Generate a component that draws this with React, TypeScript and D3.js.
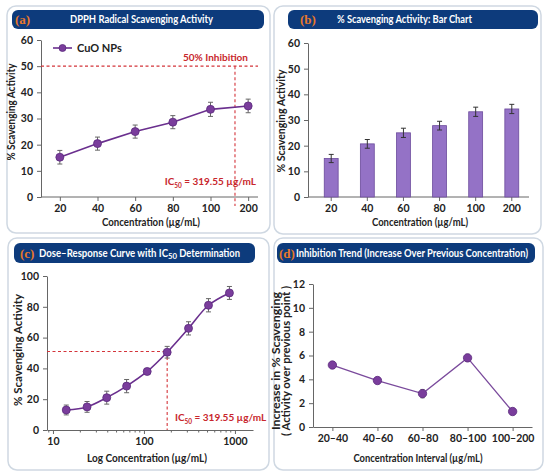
import React, { useEffect, useRef } from "react";
import * as d3 from "d3";

// panel (a) and (b): concentrations
const concLabels = ["20", "40", "60", "80", "100", "200"];
const lineValues = [15.2, 20.4, 25.0, 28.6, 33.5, 34.8];
const lineErr = [2.6, 2.5, 2.5, 2.5, 2.7, 2.6];
const barValues = [15.0, 20.7, 25.0, 27.8, 33.2, 34.3];
const barErr = [1.6, 1.7, 1.8, 1.7, 1.8, 1.8];
const yTicksAB = [0, 10, 20, 30, 40, 50, 60];

// panel (c): dose-response on log axis
const logConc = [14, 23.7, 39, 64.5, 108.6, 180, 309, 512, 870];
const doseValues = [13, 15, 21, 28.5, 38, 50.5, 66, 81, 89];
const doseErr = [3.2, 3.5, 4.2, 4.3, 2.0, 3.8, 4.3, 4.3, 4.2];
const yTicksC = [0, 20, 40, 60, 80, 100];
const logTicks = [10, 100, 1000];
const ic50Marker = 180;
const ic50Level = 51;

// panel (d): increase over previous concentration
const intervals = ["20–40", "40–60", "60–80", "80–100", "100–200"];
const increase = [5.2, 3.9, 2.8, 5.8, 1.3];
const increaseErr = [0.25, 0.25, 0.35, 0.3, 0.25];
const yTicksD = [0, 2, 4, 6, 8, 10, 12];

const FONT = "Lato, 'Open Sans', sans-serif";
const PURPLE = "#6a2f8e";
const RED = "#d4343a";
const NAVY = "#0d3b7c";
const ORANGE = "#e8782a";
const TEXT = "#222";

type Sel = d3.Selection<SVGSVGElement, unknown, null, undefined>;

const App: React.FC = () => {
  const ref = useRef<SVGSVGElement>(null);

  useEffect(() => {
    if (!ref.current) return;
    const svg: Sel = d3.select(ref.current);
    svg.selectAll("*").remove();
    svg.attr("font-family", FONT);

    svg.append("rect").attr("width", 550).attr("height", 476).attr("fill", "#fff");

    const card = (x: number, y: number, w: number, h: number) => {
      svg
        .append("rect")
        .attr("x", x)
        .attr("y", y)
        .attr("width", w)
        .attr("height", h)
        .attr("rx", 9)
        .attr("fill", "#fff")
        .attr("stroke", "#cfd8e2")
        .attr("stroke-width", 1.5);
    };

    // parts: [text, length, isSubscript]
    const titleBar = (
      x: number, y: number, w: number, h: number,
      label: string, labelX: number,
      titleX: number, parts: [string, number, boolean][]
    ) => {
      svg.append("rect").attr("x", x).attr("y", y).attr("width", w).attr("height", h)
        .attr("rx", 6).attr("fill", NAVY);
      svg.append("text").attr("x", labelX).attr("y", y + h / 2 + 4.5)
        .attr("fill", ORANGE).attr("font-family", "'Liberation Serif', serif")
        .attr("font-weight", 700).attr("font-size", 13).text(label);
      const t = svg.append("text").attr("x", titleX).attr("y", y + h / 2 + 3.8)
        .attr("fill", "#fff").attr("font-weight", 700).attr("font-size", 11);
      let cx = titleX;
      parts.forEach(([s, len, isSub]) => {
        t.append("tspan").attr("x", cx).attr("y", y + h / 2 + (isSub ? 6.3 : 3.8))
          .attr("font-size", isSub ? 7.5 : 11)
          .attr("textLength", len).attr("lengthAdjust", "spacingAndGlyphs").text(s);
        cx += len;
      });
    };

    const styleAxis = (g: d3.Selection<SVGGElement, unknown, null, undefined>) => {
      g.selectAll(".domain").attr("stroke", "#666");
      g.selectAll(".tick line").attr("stroke", "#666");
      g.selectAll(".tick text").attr("fill", TEXT).attr("font-size", 10.5)
        .attr("font-weight", 700).attr("font-family", FONT);
    };

    const yLabel = (x: number, y: number, lines: [string, number][], size = 11.5) => {
      lines.forEach(([s, len], i) => {
        svg.append("text")
          .attr("transform", `translate(${x + i * 10},${y}) rotate(-90)`)
          .attr("text-anchor", "middle").attr("fill", TEXT)
          .attr("font-size", size).attr("font-weight", 700)
          .attr("textLength", len).attr("lengthAdjust", "spacingAndGlyphs").text(s);
      });
    };

    const xLabel = (x: number, y: number, s: string, len: number) => {
      svg.append("text").attr("x", x).attr("y", y).attr("text-anchor", "middle")
        .attr("fill", TEXT).attr("font-size", 11.5).attr("font-weight", 700)
        .attr("textLength", len).attr("lengthAdjust", "spacingAndGlyphs").text(s);
    };

    const errorBars = (
      xs: number[], ys: number[], es: number[],
      y: d3.ScaleLinear<number, number>, cap: number, color: string
    ) => {
      xs.forEach((xv, i) => {
        const top = y(ys[i] + es[i]);
        const bot = y(ys[i] - es[i]);
        const g = svg.append("g").attr("stroke", color).attr("stroke-width", 1);
        g.append("line").attr("x1", xv).attr("x2", xv).attr("y1", top).attr("y2", bot);
        g.append("line").attr("x1", xv - cap).attr("x2", xv + cap).attr("y1", top).attr("y2", top);
        g.append("line").attr("x1", xv - cap).attr("x2", xv + cap).attr("y1", bot).attr("y2", bot);
      });
    };

    const markers = (xs: number[], ys: number[], r = 4) => {
      xs.forEach((xv, i) => {
        svg.append("circle").attr("cx", xv).attr("cy", ys[i]).attr("r", r)
          .attr("fill", "#7a3d9c").attr("stroke", "#5b2a7c").attr("stroke-width", 0.8);
      });
    };

    const ic50Text = (x: number, y: number, anchor: string) => {
      const t = svg.append("text").attr("x", x).attr("y", y).attr("text-anchor", anchor)
        .attr("fill", "#c8262c").attr("font-size", 10).attr("font-weight", 700);
      t.append("tspan").text("IC");
      t.append("tspan").attr("font-size", 6.5).attr("dy", 2.5).text("50");
      t.append("tspan").attr("dy", -2.5).text(" = 319.55 µg/mL");
    };

    // ---------- (a) ----------
    card(7, 6, 263, 227);
    titleBar(12, 10, 252, 19, "(a)", 15, 70, [["DPPH Radical Scavenging Activity", 143, false]]);
    {
      const x = d3.scalePoint<string>().domain(concLabels).range([41, 267]).padding(0.5);
      const y = d3.scaleLinear().domain([0, 60]).range([197, 40]);
      const gx = svg.append("g").attr("transform", "translate(0,197)")
        .call(d3.axisBottom(x).tickSize(4).tickSizeOuter(0).tickPadding(4));
      gx.select(".domain").attr("d", "M41,0H258");
      styleAxis(gx);
      const gy = svg.append("g").attr("transform", "translate(41,0)")
        .call(d3.axisLeft(y).tickValues(yTicksAB).tickSize(4).tickSizeOuter(0).tickPadding(4));
      styleAxis(gy);

      const step = x.step();
      const icX = (x("100") as number) + step * 0.65;
      svg.append("line").attr("x1", 41).attr("x2", 258).attr("y1", y(50)).attr("y2", y(50))
        .attr("stroke", RED).attr("stroke-width", 1.1).attr("stroke-dasharray", "3,2.5");
      svg.append("line").attr("x1", icX).attr("x2", icX).attr("y1", y(50)).attr("y2", y(0) + 9)
        .attr("stroke", RED).attr("stroke-width", 1.1).attr("stroke-dasharray", "3,2.5");
      svg.append("text").attr("x", 248).attr("y", 61).attr("text-anchor", "end")
        .attr("fill", "#c8262c").attr("font-size", 10).attr("font-weight", 700).text("50% Inhibition");
      ic50Text(256, 185, "end");

      const xs = concLabels.map((c) => x(c) as number);
      errorBars(xs, lineValues, lineErr, y, 2.5, "#666");
      const line = d3.line<number>().x((_, i) => xs[i]).y((d) => y(d));
      svg.append("path").datum(lineValues).attr("d", line).attr("fill", "none")
        .attr("stroke", PURPLE).attr("stroke-width", 1.6);
      markers(xs, lineValues.map((v) => y(v)), 4);

      // legend
      svg.append("line").attr("x1", 53).attr("x2", 72).attr("y1", 48).attr("y2", 48)
        .attr("stroke", PURPLE).attr("stroke-width", 1.6);
      markers([62.5], [48], 3.5);
      svg.append("text").attr("x", 77).attr("y", 52).attr("fill", TEXT)
        .attr("font-size", 11).attr("font-weight", 700).text("CuO NPs");

      yLabel(15, 112, [["% Scavenging Activity", 97]]);
      xLabel(151, 226, "Concentration (µg/mL)", 98);
    }

    // ---------- (b) ----------
    card(274, 6, 267, 228);
    titleBar(288, 10, 250, 19, "(b)", 300, 337, [["% Scavenging Activity: Bar Chart", 135, false]]);
    {
      const x = d3.scaleBand<string>().domain(concLabels).range([308, 535])
        .paddingInner(0.615).paddingOuter(0.45);
      const y = d3.scaleLinear().domain([0, 60]).range([197, 43]);
      const gx = svg.append("g").attr("transform", "translate(0,197)")
        .call(d3.axisBottom(x).tickSize(4).tickSizeOuter(0).tickPadding(4));
      gx.select(".domain").attr("d", "M308,0H529");
      styleAxis(gx);
      const gy = svg.append("g").attr("transform", "translate(308,0)")
        .call(d3.axisLeft(y).tickValues(yTicksAB).tickSize(4).tickSizeOuter(0).tickPadding(4));
      styleAxis(gy);

      svg.append("g").selectAll("rect").data(barValues).join("rect")
        .attr("x", (_, i) => x(concLabels[i]) as number)
        .attr("y", (d) => y(d))
        .attr("width", x.bandwidth())
        .attr("height", (d) => y(0) - y(d))
        .attr("fill", "#9472c6").attr("stroke", "#6c4b9c").attr("stroke-width", 0.8);
      const xs = concLabels.map((c) => (x(c) as number) + x.bandwidth() / 2);
      errorBars(xs, barValues, barErr, y, 2.5, "#333");

      yLabel(285, 121, [["% Scavenging Activity", 103]]);
      xLabel(420, 226, "Concentration (µg/mL)", 96);
    }

    // ---------- (c) ----------
    card(8, 238, 261, 232);
    titleBar(14, 243, 241, 20, "(c)", 20, 39, [
      ["Dose–Response Curve with IC", 129, false],
      ["50", 9, true],
      [" Determination", 63, false],
    ]);
    {
      const x = d3.scaleLog().domain([8.6, 1580]).range([47, 253]);
      const y = d3.scaleLinear().domain([0, 100]).range([430, 276]);
      const gx = svg.append("g").attr("transform", "translate(0,430)")
        .call(d3.axisBottom(x).tickValues(logTicks).tickFormat(d3.format("d"))
          .tickSize(4).tickSizeOuter(0).tickPadding(4));
      styleAxis(gx);
      const minor = x.ticks().filter((t) => !logTicks.includes(t));
      svg.append("g").selectAll("line").data(minor).join("line")
        .attr("x1", (d) => x(d)).attr("x2", (d) => x(d))
        .attr("y1", 430).attr("y2", 432.5).attr("stroke", "#666");
      const gy = svg.append("g").attr("transform", "translate(47,0)")
        .call(d3.axisLeft(y).tickValues(yTicksC).tickSize(4).tickSizeOuter(0).tickPadding(4));
      styleAxis(gy);

      svg.append("line").attr("x1", 47).attr("x2", x(ic50Marker))
        .attr("y1", y(ic50Level)).attr("y2", y(ic50Level))
        .attr("stroke", RED).attr("stroke-width", 1.1).attr("stroke-dasharray", "3,2.5");
      svg.append("line").attr("x1", x(ic50Marker)).attr("x2", x(ic50Marker))
        .attr("y1", y(ic50Level)).attr("y2", 430)
        .attr("stroke", RED).attr("stroke-width", 1.1).attr("stroke-dasharray", "3,2.5");
      ic50Text(175, 421, "start");

      const xs = logConc.map((c) => x(c));
      errorBars(xs, doseValues, doseErr, y, 2.5, "#666");
      const line = d3.line<number>().x((_, i) => xs[i]).y((d) => y(d)).curve(d3.curveCatmullRom);
      svg.append("path").datum(doseValues).attr("d", line).attr("fill", "none")
        .attr("stroke", PURPLE).attr("stroke-width", 1.6);
      markers(xs, doseValues.map((v) => y(v)), 4);

      yLabel(22, 350, [["% Scavenging Activity", 112]]);
      xLabel(147, 462, "Log Concentration (µg/mL)", 120);
    }

    // ---------- (d) ----------
    card(274, 238, 269, 232);
    titleBar(277, 243, 258, 20, "(d)", 279, 296, [
      ["Inhibition Trend (Increase Over Previous Concentration)", 232, false],
    ]);
    {
      const x = d3.scalePoint<string>().domain(intervals).range([313, 532]).padding(0.43);
      const y = d3.scaleLinear().domain([0, 12]).range([427, 284]);
      const gx = svg.append("g").attr("transform", "translate(0,427)")
        .call(d3.axisBottom(x).tickSize(4).tickSizeOuter(0).tickPadding(4));
      styleAxis(gx);
      const gy = svg.append("g").attr("transform", "translate(313,0)")
        .call(d3.axisLeft(y).tickValues(yTicksD).tickSize(4).tickSizeOuter(0).tickPadding(4));
      styleAxis(gy);

      const xs = intervals.map((c) => x(c) as number);
      errorBars(xs, increase, increaseErr, y, 2, "#666");
      const line = d3.line<number>().x((_, i) => xs[i]).y((d) => y(d));
      svg.append("path").datum(increase).attr("d", line).attr("fill", "none")
        .attr("stroke", "#7a4a9c").attr("stroke-width", 1.3);
      markers(xs, increase.map((v) => y(v)), 4.2);

      yLabel(280, 361, [
        ["Increase in % Scavenging", 138],
        ["( Activity over previous point )", 150],
      ], 10.5);
      xLabel(418, 462, "Concentration Interval (µg/mL)", 129);
    }
  }, []);

  return (
    <svg
      ref={ref}
      width={550}
      height={476}
      style={{ position: "absolute", left: 0, top: 0, display: "block" }}
    />
  );
};

export default App;
